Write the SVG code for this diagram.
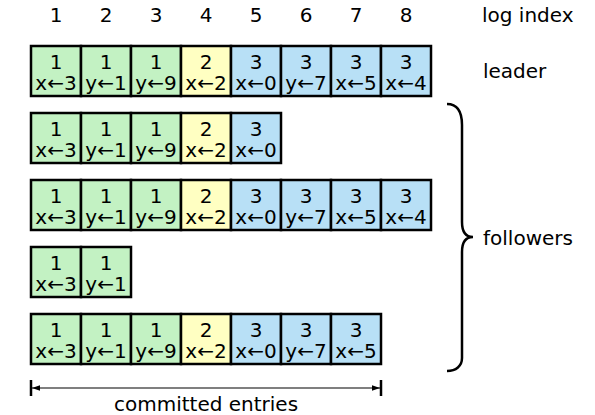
<svg xmlns="http://www.w3.org/2000/svg" width="595" height="415" viewBox="0 0 595 415">
<defs>
<style>
text{font-family:"DejaVu Sans","Liberation Sans",sans-serif;font-size:20px;fill:#000}
.c{text-anchor:middle}
.g{fill:#c3f2c3}
.y{fill:#ffffc2}
.b{fill:#b8e0f6}
rect{stroke:#000;stroke-width:2.5}
</style>
<marker id="ah" viewBox="0 0 10 10" refX="10" refY="5" markerWidth="8" markerHeight="8" orient="auto-start-reverse" markerUnits="userSpaceOnUse"><path d="M0,1.5 L10,5 L0,8.5 Z" fill="#000"/></marker>
</defs>
<g id="index">
<text x="56" y="22" class="c">1</text><text x="106" y="22" class="c">2</text><text x="156" y="22" class="c">3</text><text x="206" y="22" class="c">4</text><text x="256" y="22" class="c">5</text><text x="306" y="22" class="c">6</text><text x="356" y="22" class="c">7</text><text x="406" y="22" class="c">8</text>
<text x="482" y="22">log index</text>
</g>
<g id="leader">
<rect class="g" x="31" y="46" width="50" height="50"/><rect class="g" x="81" y="46" width="50" height="50"/><rect class="g" x="131" y="46" width="50" height="50"/><rect class="y" x="181" y="46" width="50" height="50"/><rect class="b" x="231" y="46" width="50" height="50"/><rect class="b" x="281" y="46" width="50" height="50"/><rect class="b" x="331" y="46" width="50" height="50"/><rect class="b" x="381" y="46" width="50" height="50"/>
<text class="c" x="56" y="69">1</text><text class="c" x="56" y="90">x←3</text>
<text class="c" x="106" y="69">1</text><text class="c" x="106" y="90">y←1</text>
<text class="c" x="156" y="69">1</text><text class="c" x="156" y="90">y←9</text>
<text class="c" x="206" y="69">2</text><text class="c" x="206" y="90">x←2</text>
<text class="c" x="256" y="69">3</text><text class="c" x="256" y="90">x←0</text>
<text class="c" x="306" y="69">3</text><text class="c" x="306" y="90">y←7</text>
<text class="c" x="356" y="69">3</text><text class="c" x="356" y="90">x←5</text>
<text class="c" x="406" y="69">3</text><text class="c" x="406" y="90">x←4</text>
<text x="483" y="78">leader</text>
</g>
<g id="follower1">
<rect class="g" x="31" y="113" width="50" height="50"/><rect class="g" x="81" y="113" width="50" height="50"/><rect class="g" x="131" y="113" width="50" height="50"/><rect class="y" x="181" y="113" width="50" height="50"/><rect class="b" x="231" y="113" width="50" height="50"/>
<text class="c" x="56" y="136">1</text><text class="c" x="56" y="157">x←3</text>
<text class="c" x="106" y="136">1</text><text class="c" x="106" y="157">y←1</text>
<text class="c" x="156" y="136">1</text><text class="c" x="156" y="157">y←9</text>
<text class="c" x="206" y="136">2</text><text class="c" x="206" y="157">x←2</text>
<text class="c" x="256" y="136">3</text><text class="c" x="256" y="157">x←0</text>
</g>
<g id="follower2">
<rect class="g" x="31" y="180" width="50" height="50"/><rect class="g" x="81" y="180" width="50" height="50"/><rect class="g" x="131" y="180" width="50" height="50"/><rect class="y" x="181" y="180" width="50" height="50"/><rect class="b" x="231" y="180" width="50" height="50"/><rect class="b" x="281" y="180" width="50" height="50"/><rect class="b" x="331" y="180" width="50" height="50"/><rect class="b" x="381" y="180" width="50" height="50"/>
<text class="c" x="56" y="203">1</text><text class="c" x="56" y="224">x←3</text>
<text class="c" x="106" y="203">1</text><text class="c" x="106" y="224">y←1</text>
<text class="c" x="156" y="203">1</text><text class="c" x="156" y="224">y←9</text>
<text class="c" x="206" y="203">2</text><text class="c" x="206" y="224">x←2</text>
<text class="c" x="256" y="203">3</text><text class="c" x="256" y="224">x←0</text>
<text class="c" x="306" y="203">3</text><text class="c" x="306" y="224">y←7</text>
<text class="c" x="356" y="203">3</text><text class="c" x="356" y="224">x←5</text>
<text class="c" x="406" y="203">3</text><text class="c" x="406" y="224">x←4</text>
</g>
<g id="follower3">
<rect class="g" x="31" y="247" width="50" height="50"/><rect class="g" x="81" y="247" width="50" height="50"/>
<text class="c" x="56" y="270">1</text><text class="c" x="56" y="291">x←3</text>
<text class="c" x="106" y="270">1</text><text class="c" x="106" y="291">y←1</text>
</g>
<g id="follower4">
<rect class="g" x="31" y="314" width="50" height="50"/><rect class="g" x="81" y="314" width="50" height="50"/><rect class="g" x="131" y="314" width="50" height="50"/><rect class="y" x="181" y="314" width="50" height="50"/><rect class="b" x="231" y="314" width="50" height="50"/><rect class="b" x="281" y="314" width="50" height="50"/><rect class="b" x="331" y="314" width="50" height="50"/>
<text class="c" x="56" y="337">1</text><text class="c" x="56" y="358">x←3</text>
<text class="c" x="106" y="337">1</text><text class="c" x="106" y="358">y←1</text>
<text class="c" x="156" y="337">1</text><text class="c" x="156" y="358">y←9</text>
<text class="c" x="206" y="337">2</text><text class="c" x="206" y="358">x←2</text>
<text class="c" x="256" y="337">3</text><text class="c" x="256" y="358">x←0</text>
<text class="c" x="306" y="337">3</text><text class="c" x="306" y="358">y←7</text>
<text class="c" x="356" y="337">3</text><text class="c" x="356" y="358">x←5</text>
</g>
<g id="connectors" fill="none" stroke="#000">
<path d="M447,104 C458,104 462,112 462,125 L462,222 C462,233 466,237 473,237 C466,237 462,241 462,252 L462,358 C462,366 456,371 447,371" stroke-width="2.5"/>
<line x1="32" y1="388" x2="380" y2="388" stroke-width="1.2" marker-start="url(#ah)" marker-end="url(#ah)"/>
<line x1="31" y1="380" x2="31" y2="396" stroke-width="2.5"/>
<line x1="381" y1="380" x2="381" y2="396" stroke-width="2.5"/>
</g>
<text x="206" y="411" class="c">committed entries</text>
<text x="483" y="245">followers</text>
</svg>
